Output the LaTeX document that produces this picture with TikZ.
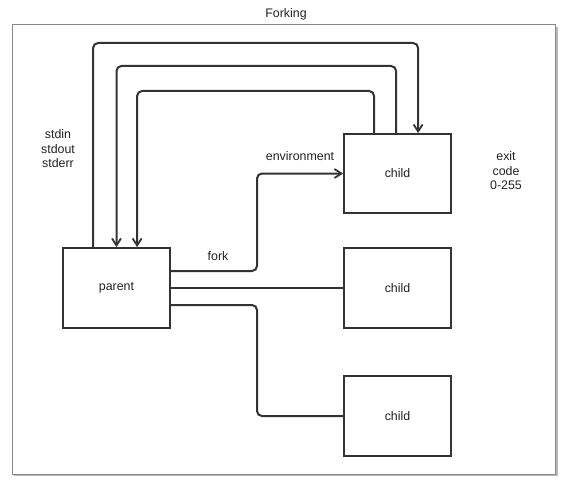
\documentclass[tikz,border=0pt]{standalone}
\usepackage{fontspec}
\setmainfont{Liberation Sans}
\usetikzlibrary{arrows.meta}
\definecolor{boxline}{HTML}{333333}
\definecolor{framegray}{HTML}{888888}
\definecolor{txt}{HTML}{222222}
\tikzset{
  box/.style={draw=boxline, line width=1.8pt, minimum width=107pt, minimum height=80pt, inner sep=0pt, fill=white, text=txt},
  lbl/.style={text=txt, inner sep=0pt, align=center},
  conn/.style={draw=boxline, line width=2pt, rounded corners=5pt},
  arr/.style={-{Straight Barb[length=7pt,width=9pt,line width=1.8pt]}},
}
\begin{document}
\begin{tikzpicture}[x=1pt,y=-1pt,font=\fontsize{12.4}{14.5}\selectfont]
\useasboundingbox (0,0) rectangle (585,489);
\fill[white] (0,0) rectangle (585,489);
% frame
\draw[framegray!60, line width=1.2pt] (557,27) -- (557,475.5) -- (14,475.5);
\draw[framegray, line width=1pt] (12.7,25) rectangle (555.5,474.3);
\node[lbl] (title) at (286,14) {Forking};
% boxes
\node[box] (parent) at (116.5,288) {parent};
\node[box, minimum height=79pt] (child1) at (397.5,173.5) {child};
\node[box] (child2) at (397.5,288) {child};
\node[box] (child3) at (397.5,416) {child};
% labels
\node[lbl] (stdio) at (58,149) {stdin\\stdout\\stderr};
\node[lbl] (env) at (300,156) {environment};
\node[lbl] (exit) at (506,171) {exit\\code\\0-255};
\node[lbl] (forklbl) at (218,256) {fork};
% loops
\draw[conn,arr] ([xshift=31pt]parent.north west) -- ([xshift=31pt]parent.north west |- 0,43) -| ([xshift=75pt]child1.north west);
\draw[conn,arr] ([xshift=53pt]child1.north west) -- ([xshift=53pt]child1.north west |- 0,66) -| (parent.north);
\draw[conn,arr] ([xshift=31pt]child1.north west) -- ([xshift=31pt]child1.north west |- 0,91) -| ([xshift=75pt]parent.north west);
% fork lines
\draw[conn,arr] ([yshift=17pt]parent.east) -| (child1.west -| 257,0) -- (child1.west);
\draw[conn] (parent.east) -- (child2.west);
\draw[conn] ([yshift=-17pt]parent.east) -| (child3.west -| 257,0) -- (child3.west);
\end{tikzpicture}
\end{document}
